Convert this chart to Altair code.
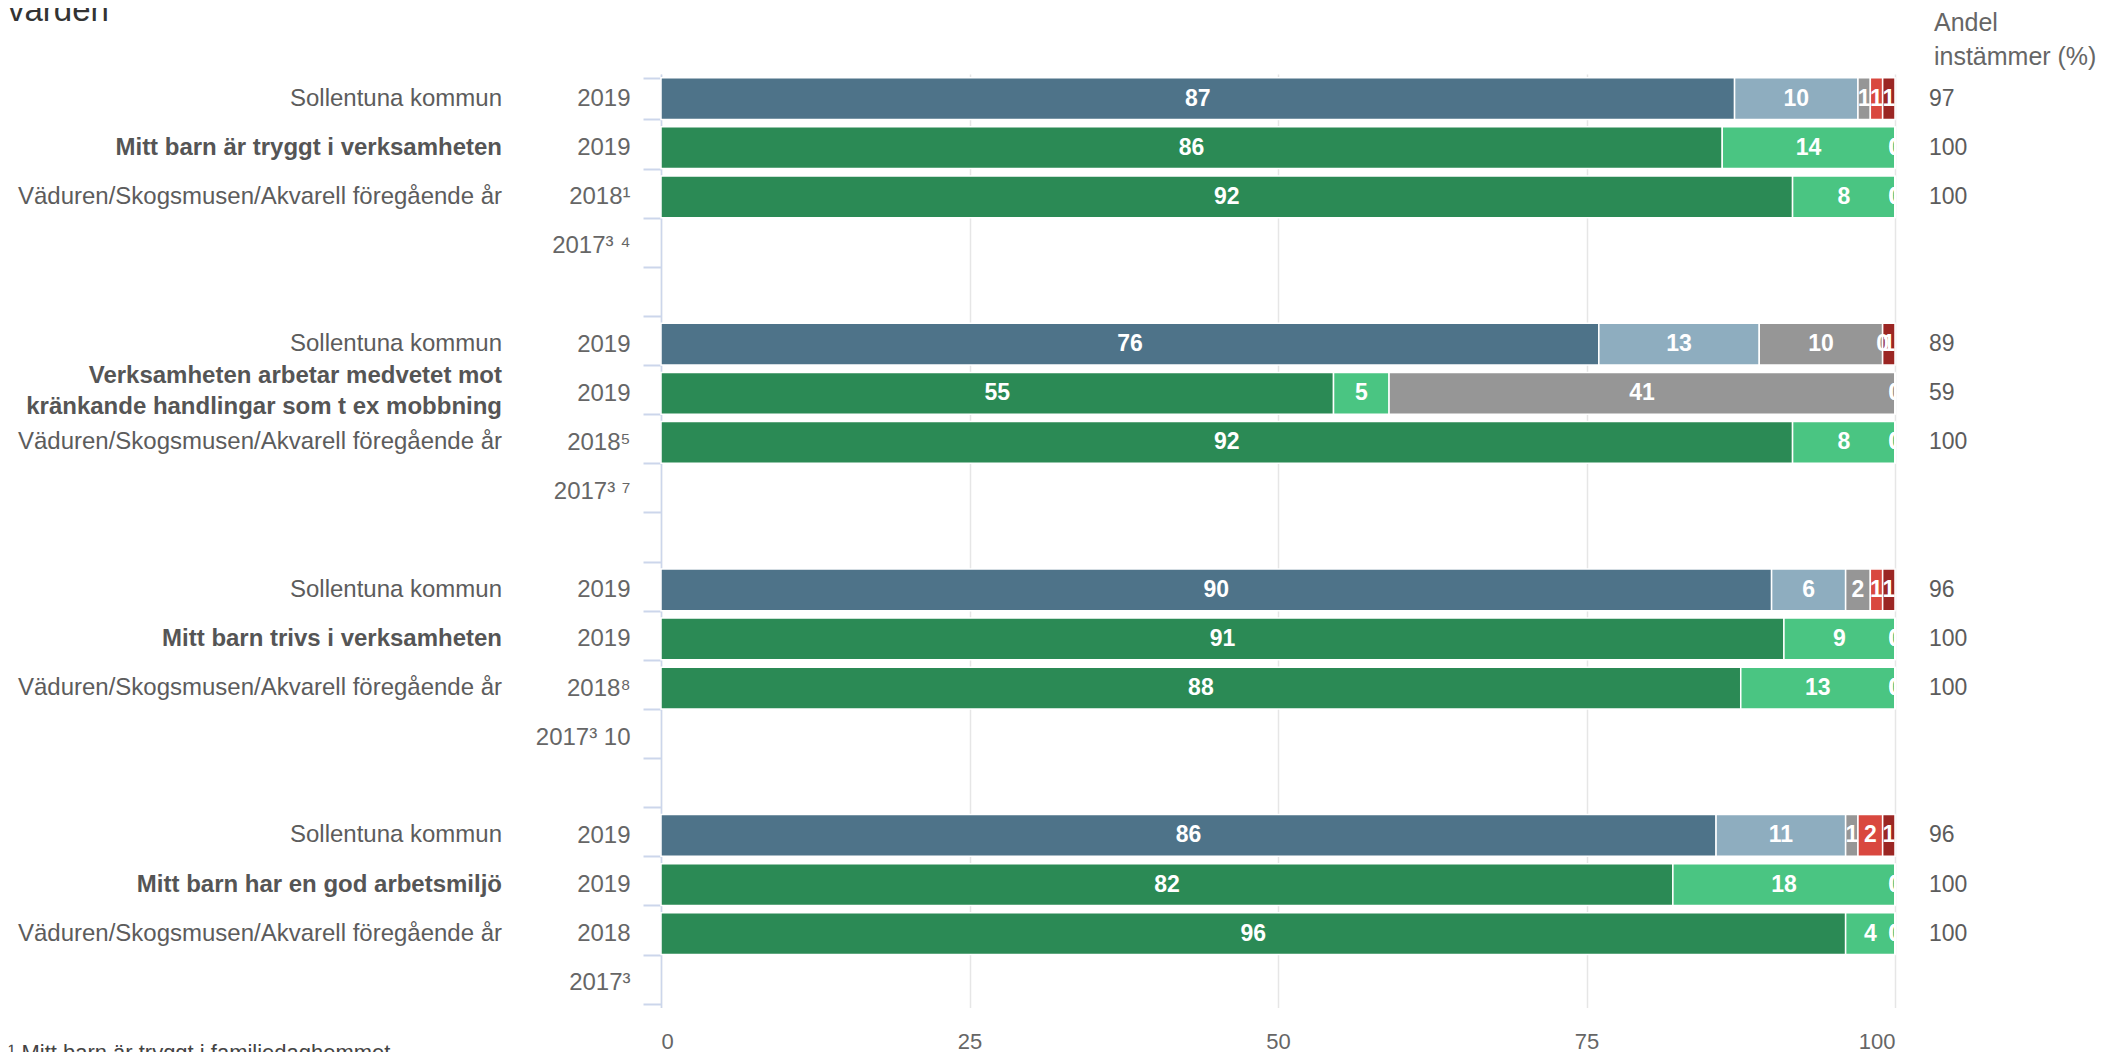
import altair as alt
import pandas as pd

FONT = "Liberation Sans"

# ---------------- data ----------------
year_labels = ["2019", "2019", "2018¹", "2017³ ⁴", "",
               "2019", "2019", "2018⁵", "2017³ ⁷", "",
               "2019", "2019", "2018⁸", "2017³ 10", "",
               "2019", "2019", "2018", "2017³"]

questions = ["Mitt barn är tryggt i verksamheten",
             "Verksamheten arbetar medvetet mot\nkränkande handlingar som t ex mobbning",
             "Mitt barn trivs i verksamheten",
             "Mitt barn har en god arbetsmiljö"]
kommun_label = "Sollentuna kommun"
prev_label = "Väduren/Skogsmusen/Akvarell föregående år"

# five answer categories per bar (stack order)
kommun_values = [[87, 10, 1, 1, 1],
                 [76, 13, 10, 0, 1],
                 [90, 6, 2, 1, 1],
                 [85.5, 10.5, 1, 2, 1]]
unit_values = [[86, 14, 0, 0, 0],
               [54.5, 4.5, 41, 0, 0],
               [91, 9, 0, 0, 0],
               [82, 18, 0, 0, 0]]
prev_values = [[91.7, 8.3, 0, 0, 0],
               [91.7, 8.3, 0, 0, 0],
               [87.5, 12.5, 0, 0, 0],
               [96, 4, 0, 0, 0]]

andel_kommun = [97, 89, 96, 96]
andel_unit = [100, 59, 100, 100]
andel_prev = [100, 100, 100, 100]

kommun_colors = ["#4e7389", "#8eadbf", "#969696", "#d9483f", "#9b2623"]
unit_colors = ["#2b8a55", "#4ac582", "#969696", "#d9483f", "#9b2623"]

header_text = "Andel\ninstämmer (%)"
title_text = "värden"
footnote_text = "¹ Mitt barn är tryggt i familjedaghemmet"

# ---------------- tables ----------------
seg_rows = []
lab_rows = []
right_rows = []
for g in range(4):
    base = g * 5
    for r, (vals, pal, lab, bold, andel) in enumerate([
        (kommun_values[g], "k", kommun_label, False, andel_kommun[g]),
        (unit_values[g], "e", questions[g], True, andel_unit[g]),
        (prev_values[g], "e", prev_label, False, andel_prev[g]),
    ]):
        idx = base + r
        for s, v in enumerate(vals):
            seg_rows.append({"idx": idx, "serie": s + 1, "value": v,
                             "ckey": f"{pal}{s + 1}"})
        lab_rows.append({"idx": idx, "label": lab, "bold": bold,
                         "lines": lab.count("\n") + 1})
        right_rows.append({"idx": idx, "andel": andel})

seg = pd.DataFrame(seg_rows)
labs = pd.DataFrame(lab_rows)
right = pd.DataFrame(right_rows)

ckeys = [f"k{i}" for i in range(1, 6)] + [f"e{i}" for i in range(1, 6)]
crange = kommun_colors + unit_colors

# ---------------- scales / axes ----------------
W = 1234
H = 933.4
PAD_L = 653
PAD_T = 66

label_expr = "[" + ",".join("'" + t + "'" for t in year_labels) + "][datum.value]"

yscale = alt.Scale(domain=list(range(len(year_labels))), paddingInner=0.15, paddingOuter=0.075)
yaxis = alt.Axis(title=None, labelExpr=label_expr, labelFontSize=24, labelColor="#666666",
                 labelFont=FONT, labelPadding=13, tickSize=18, tickWidth=2,
                 tickColor="#ccd6eb", domainColor="#ccd6eb", domainWidth=1.5,
                 tickBand="extent", grid=False, labelOverlap=False)
xscale = alt.Scale(domain=[0, 100], nice=False)
xaxis = alt.Axis(title=None, values=[0, 25, 50, 75, 100], grid=True, gridColor="#e6e6e6",
                 gridWidth=1.5, domain=False, ticks=False, labelFontSize=22,
                 labelColor="#666666", labelFont=FONT, labelPadding=24)

Y = alt.Y("idx:O", scale=yscale, axis=yaxis)

base = alt.Chart(seg).transform_stack(
    stack="value", groupby=["idx"], sort=[alt.SortField("serie", order="ascending")],
    as_=["x0", "x1"]
).transform_calculate(mid="(datum.x0 + datum.x1) / 2")

bars = base.mark_bar(stroke="white", strokeWidth=1.5).encode(
    x=alt.X("x0:Q", scale=xscale, axis=xaxis),
    x2="x1:Q",
    y=Y,
    color=alt.Color("ckey:N", scale=alt.Scale(domain=ckeys, range=crange), legend=None),
)

seg_text = base.mark_text(color="white", fontWeight="bold", fontSize=23, font=FONT,
                          clip=True, baseline="middle").encode(
    x=alt.X("mid:Q", scale=xscale, axis=xaxis),
    y=Y,
    text=alt.Text("value:Q", format=".0f"),
)

cat_reg = alt.Chart(labs).transform_filter("!datum.bold").mark_text(
    align="right", baseline="middle", fontSize=24, font=FONT, color="#5c5c5c"
).encode(x=alt.value(-159), y=Y, text="label:N")

cat_bold1 = alt.Chart(labs).transform_filter("datum.bold && datum.lines == 1").mark_text(
    align="right", baseline="middle", fontSize=24, font=FONT, color="#555555",
    fontWeight="bold"
).encode(x=alt.value(-159), y=Y, text="label:N")

cat_bold2 = alt.Chart(labs).transform_filter("datum.bold && datum.lines == 2").mark_text(
    align="right", baseline="middle", fontSize=24, font=FONT, color="#555555",
    fontWeight="bold", lineBreak="\n", lineHeight=31, dy=-17
).encode(x=alt.value(-159), y=Y, text="label:N")

right_text = alt.Chart(right).mark_text(
    align="left", baseline="middle", fontSize=23, font=FONT, color="#5c5c5c"
).encode(x=alt.value(1268), y=Y, text="andel:Q")

header = alt.Chart(pd.DataFrame({"t": [header_text]})).mark_text(
    align="left", baseline="middle", fontSize=25, font=FONT, color="#666666",
    lineBreak="\n", lineHeight=34
).encode(x=alt.value(1273), y=alt.value(-51), text="t:N")

title = alt.Chart(pd.DataFrame({"t": [title_text]})).mark_text(
    align="left", baseline="alphabetic", fontSize=33, font=FONT, color="#333333"
).encode(x=alt.value(-PAD_L), y=alt.value(-53), text="t:N")

footnote = alt.Chart(pd.DataFrame({"t": [footnote_text]})).mark_text(
    align="left", baseline="top", fontSize=22, font=FONT, color="#444444"
).encode(x=alt.value(-PAD_L), y=alt.value(969), text="t:N")

chart = alt.layer(bars, seg_text, cat_reg, cat_bold1, cat_bold2, right_text,
                  header, title, footnote).properties(
    width=W, height=H,
    autosize=alt.AutoSizeParams(type="none"),
    padding={"left": PAD_L, "top": PAD_T, "right": 215, "bottom": 60},
).configure(background="white").configure_view(stroke=None)

chart.save("out.html", embed_options={"renderer": "svg", "actions": False})
